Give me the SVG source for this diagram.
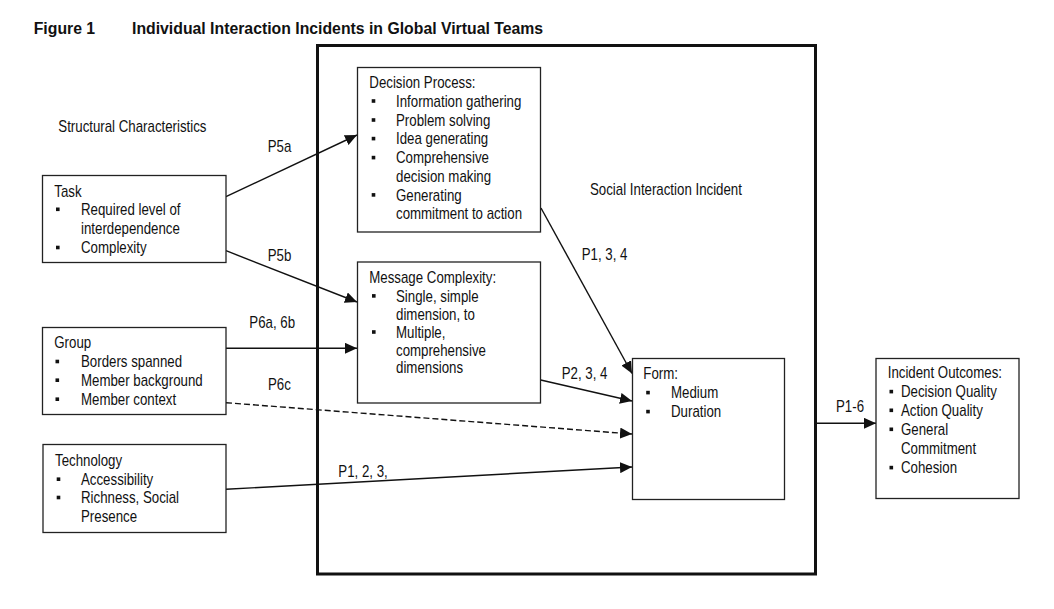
<svg xmlns="http://www.w3.org/2000/svg" width="1054" height="609" viewBox="0 0 1054 609">
<style>
text{font-family:"Liberation Sans",Arial,sans-serif;font-size:16px;fill:#111}
.ttl{font-weight:bold;font-size:15.8px}
.box{fill:#fff;stroke:#222;stroke-width:1.3}
.big{fill:none;stroke:#111;stroke-width:3}
.c{fill:none;stroke:#111;stroke-width:1.4}
.d{stroke-dasharray:6 3}
.b{fill:#111}
</style>
<defs>
<marker id="ah" markerUnits="userSpaceOnUse" markerWidth="12" markerHeight="11" refX="12" refY="5.5" orient="auto">
<path d="M0,0 L12,5.5 L0,11 z" fill="#111"/>
</marker>
</defs>
<rect width="1054" height="609" fill="#fff"/>
<g id="title">
<text class="ttl" x="33.7" y="33.7">Figure 1</text>
<text class="ttl" x="132" y="33.7">Individual Interaction Incidents in Global Virtual Teams</text>
</g>
<g id="social-interaction-incident">
<rect class="big" x="317.5" y="45.5" width="498" height="528.5"/>
<text transform="translate(590 195) scale(.83 1)">Social Interaction Incident</text>
</g>
<g id="structural-label">
<text transform="translate(58.3 131.7) scale(.83 1)">Structural Characteristics</text>
</g>
<g id="connectors">
<line class="c" x1="226" y1="196.7" x2="357" y2="135" marker-end="url(#ah)"/>
<line class="c" x1="226" y1="250.7" x2="357" y2="302" marker-end="url(#ah)"/>
<line class="c" x1="226" y1="348.3" x2="357" y2="348.3" marker-end="url(#ah)"/>
<line class="c d" x1="226" y1="402.7" x2="632" y2="434" marker-end="url(#ah)"/>
<line class="c" x1="226" y1="489.3" x2="632" y2="467" marker-end="url(#ah)"/>
<line class="c" x1="541" y1="208" x2="632" y2="373.5" marker-end="url(#ah)"/>
<line class="c" x1="540.7" y1="380" x2="632" y2="401" marker-end="url(#ah)"/>
<line class="c" x1="816" y1="423.3" x2="876" y2="423.3" marker-end="url(#ah)"/>
<text transform="translate(267.7 152.3) scale(.83 1)">P5a</text>
<text transform="translate(267.7 260.5) scale(.83 1)">P5b</text>
<text transform="translate(249.3 328.3) scale(.83 1)">P6a, 6b</text>
<text transform="translate(268 390) scale(.83 1)">P6c</text>
<text transform="translate(338.3 476.7) scale(.83 1)">P1, 2, 3,</text>
<text transform="translate(581.7 260.3) scale(.83 1)">P1, 3, 4</text>
<text transform="translate(561.7 379.3) scale(.83 1)">P2, 3, 4</text>
<text transform="translate(836 411.7) scale(.83 1)">P1-6</text>
</g>
<g id="task">
<rect class="box" x="42.5" y="175.5" width="183.5" height="87"/>
<text transform="translate(54.3 196.7) scale(.83 1)">Task</text>
<rect class="b" x="56" y="207.5" width="3.6" height="3.6"/>
<text transform="translate(81 215.3) scale(.83 1)">Required level of</text>
<text transform="translate(81 234.3) scale(.83 1)">interdependence</text>
<rect class="b" x="56" y="245.7" width="3.6" height="3.6"/>
<text transform="translate(81 253.3) scale(.83 1)">Complexity</text>
</g>
<g id="group">
<rect class="box" x="42.5" y="327.5" width="183.5" height="87"/>
<text transform="translate(54.3 348.3) scale(.83 1)">Group</text>
<rect class="b" x="55.5" y="359.7" width="3.6" height="3.6"/>
<text transform="translate(81 367.3) scale(.83 1)">Borders spanned</text>
<rect class="b" x="55.5" y="378.4" width="3.6" height="3.6"/>
<text transform="translate(81 386) scale(.83 1)">Member background</text>
<rect class="b" x="55.5" y="397.4" width="3.6" height="3.6"/>
<text transform="translate(81 405) scale(.83 1)">Member context</text>
</g>
<g id="technology">
<rect class="box" x="43" y="444.5" width="183" height="88"/>
<text transform="translate(55 466) scale(.83 1)">Technology</text>
<rect class="b" x="56.7" y="477.4" width="3.6" height="3.6"/>
<text transform="translate(81 485) scale(.83 1)">Accessibility</text>
<rect class="b" x="56.7" y="495.7" width="3.6" height="3.6"/>
<text transform="translate(81 503.3) scale(.83 1)">Richness, Social</text>
<text transform="translate(81 522.3) scale(.83 1)">Presence</text>
</g>
<g id="decision-process">
<rect class="box" x="357.5" y="67.5" width="183" height="164.5"/>
<text transform="translate(369.3 88.3) scale(.83 1)">Decision Process:</text>
<rect class="b" x="371.7" y="99.2" width="3.6" height="3.6"/>
<text transform="translate(396 106.7) scale(.83 1)">Information gathering</text>
<rect class="b" x="371.7" y="118.2" width="3.6" height="3.6"/>
<text transform="translate(396 125.7) scale(.83 1)">Problem solving</text>
<rect class="b" x="371.7" y="136.8" width="3.6" height="3.6"/>
<text transform="translate(396 144.3) scale(.83 1)">Idea generating</text>
<rect class="b" x="371.7" y="155.8" width="3.6" height="3.6"/>
<text transform="translate(396 163.3) scale(.83 1)">Comprehensive</text>
<text transform="translate(396 181.9) scale(.83 1)">decision making</text>
<rect class="b" x="371.7" y="193.1" width="3.6" height="3.6"/>
<text transform="translate(396 200.6) scale(.83 1)">Generating</text>
<text transform="translate(396 219.3) scale(.83 1)">commitment to action</text>
</g>
<g id="message-complexity">
<rect class="box" x="357.5" y="262" width="183" height="141"/>
<text transform="translate(369.3 283.3) scale(.83 1)">Message Complexity:</text>
<rect class="b" x="372" y="294.1" width="3.6" height="3.6"/>
<text transform="translate(396 301.7) scale(.83 1)">Single, simple</text>
<text transform="translate(396 319.7) scale(.83 1)">dimension, to</text>
<rect class="b" x="372" y="330.2" width="3.6" height="3.6"/>
<text transform="translate(396 337.7) scale(.83 1)">Multiple,</text>
<text transform="translate(396 355.5) scale(.83 1)">comprehensive</text>
<text transform="translate(396 373.3) scale(.83 1)">dimensions</text>
</g>
<g id="form">
<rect class="box" x="632.5" y="358.5" width="152" height="141"/>
<text transform="translate(643.3 379.3) scale(.83 1)">Form:</text>
<rect class="b" x="646.2" y="390.8" width="3.6" height="3.6"/>
<text transform="translate(671 398.3) scale(.83 1)">Medium</text>
<rect class="b" x="646.2" y="409.8" width="3.6" height="3.6"/>
<text transform="translate(671 417.3) scale(.83 1)">Duration</text>
</g>
<g id="incident-outcomes">
<rect class="box" x="876" y="358.5" width="143" height="140"/>
<text transform="translate(887.7 378.3) scale(.83 1)">Incident Outcomes:</text>
<rect class="b" x="889.5" y="389.8" width="3.6" height="3.6"/>
<text transform="translate(901 397.3) scale(.83 1)">Decision Quality</text>
<rect class="b" x="889.5" y="408.5" width="3.6" height="3.6"/>
<text transform="translate(901 416) scale(.83 1)">Action Quality</text>
<rect class="b" x="889.5" y="427.5" width="3.6" height="3.6"/>
<text transform="translate(901 435) scale(.83 1)">General</text>
<text transform="translate(901 454) scale(.83 1)">Commitment</text>
<rect class="b" x="889.5" y="465.8" width="3.6" height="3.6"/>
<text transform="translate(901 473.3) scale(.83 1)">Cohesion</text>
</g>
</svg>
